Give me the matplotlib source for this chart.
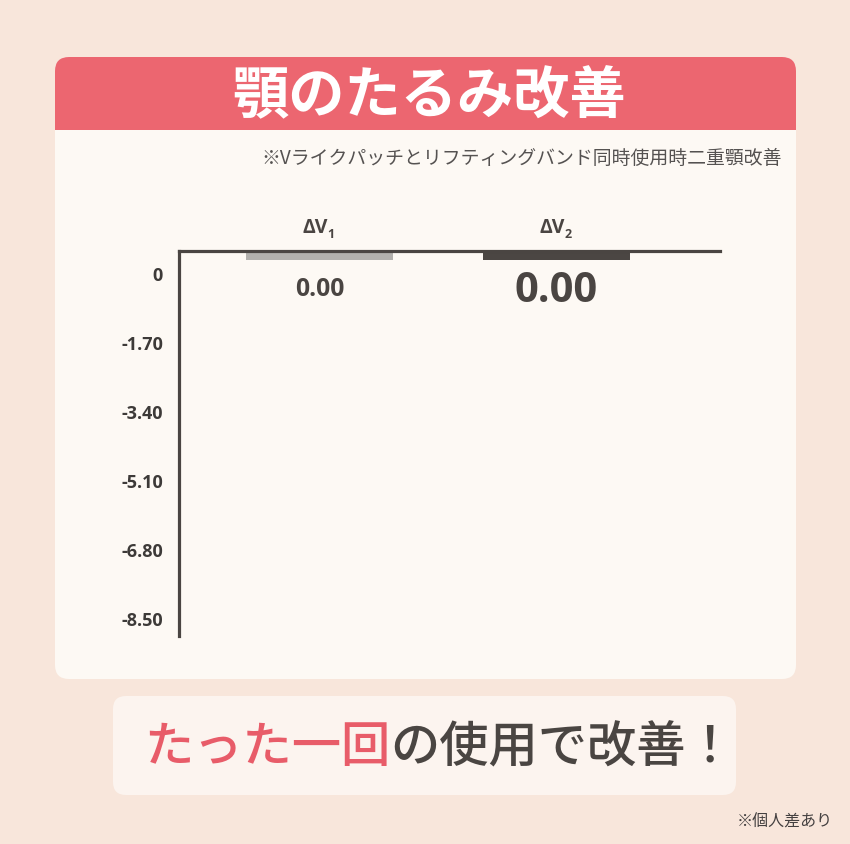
import matplotlib
matplotlib.use("Agg")
import matplotlib.pyplot as plt
from matplotlib import font_manager as fm
from matplotlib.patches import FancyBboxPatch, Rectangle
import numpy as np

# ---- data ----
categories = ["ΔV", "ΔV"]
category_subs = ["1", "2"]
values = [0.00, 0.00]
value_labels = ["0.00", "0.00"]
y_ticks = [0, -1.70, -3.40, -5.10, -6.80, -8.50]
y_tick_labels = ["0", "-1.70", "-3.40", "-5.10", "-6.80", "-8.50"]
title = "顎のたるみ改善"
subtitle = "※Vライクパッチとリフティングバンド同時使用時二重顎改善"
headline_pink = "たった一回"
headline_dark = "の使用で改善！"
footnote = "※個人差あり"

# ---- style ----
BG = "#f8e6db"
CARD = "#fdf9f4"
RED = "#ec6670"
PINK = "#e85c69"
DARK = "#4a4542"
BOX = "#fcf4ef"
bar_colors = ["#b2b0ad", "#4b4643"]
value_sizes = [17.8, 30]
JP = ["Noto Sans CJK JP", "DejaVu Sans"]


def _is_bold(w):
    if isinstance(w, str):
        return w.lower() in ("bold", "semibold", "demibold", "heavy", "extra bold")
    return w >= 600


def pick_bold(fams):
    for f in fams:
        if any(e.name == f and _is_bold(e.weight) for e in fm.fontManager.ttflist):
            return f
    return "DejaVu Sans"


LATF = pick_bold(["Open Sans", "Noto Sans", "Lato", "Roboto", "DejaVu Sans"])
LAT = [LATF, "DejaVu Sans"]

W, H = 850, 845
fig = plt.figure(figsize=(W / 100, H / 100), dpi=100)
fig.patch.set_facecolor(BG)

bg = fig.add_axes([0, 0, 1, 1], zorder=0)
bg.set_xlim(0, W)
bg.set_ylim(H, 0)
bg.axis("off")

bg.add_patch(FancyBboxPatch((55, 58), 741, 622, boxstyle="round,pad=0,rounding_size=14",
                            fc=CARD, ec="none"))
bg.add_patch(FancyBboxPatch((55, 58), 741, 95, boxstyle="round,pad=0,rounding_size=14",
                            fc=RED, ec="none"))
bg.add_patch(Rectangle((55, 131), 741, 30, fc=CARD, ec="none"))
bg.add_patch(FancyBboxPatch((113, 697), 623, 99, boxstyle="round,pad=0,rounding_size=13",
                            fc=BOX, ec="none"))

bg.text(429, 97, title, family=JP, weight="bold", fontsize=40.5, color="white",
        ha="center", va="center")
bg.text(782, 158, subtitle, family=JP, fontsize=13.6, color="#555251",
        ha="right", va="center")
t1 = bg.text(144, 748, headline_pink, family=JP, weight="medium", fontsize=35.5,
             color=PINK, ha="left", va="center")
bg.annotate(headline_dark, xy=(1, 0), xycoords=t1, family=JP, weight="medium",
            fontsize=35.5, color=DARK, ha="left", va="bottom")
bg.text(833, 822, footnote, family=JP, fontsize=11.5, color="#444040",
        ha="right", va="center")

# ---- chart ----
ax = fig.add_axes([179 / W, 1 - 637 / H, (720 - 179) / W, (637 - 252) / H], zorder=2)
ax.patch.set_alpha(0)
ytop, ybot = 0.54, -8.94
ax.set_ylim(ybot, ytop)
ax.set_xlim(-0.593, 1.690)
x = np.arange(len(categories))

stub = 0.2  # minimum visible bar thickness for zero values
for i, v in enumerate(values):
    ax.bar(x[i], v - stub, bottom=ytop - 0.02, width=0.62, color=bar_colors[i], zorder=1)
    ax.annotate(value_labels[i], xy=(x[i], v), xytext=(0, -15.8 if i == 0 else -20.2),
                textcoords="offset points", ha="center", va="baseline",
                family=LAT, weight="bold", fontsize=value_sizes[i], color=DARK)
    cl = ax.annotate(categories[i], xy=(x[i], ytop), xytext=(-3, 13.7),
                     textcoords="offset points", ha="center", va="baseline",
                     family=LAT, weight="bold", fontsize=14, color=DARK,
                     annotation_clip=False)
    ax.annotate(category_subs[i], xy=(1, 0), xycoords=cl, xytext=(-0.3, -2.2),
                textcoords="offset points", ha="left", va="bottom",
                family=LAT, weight="bold", fontsize=9, color=DARK)

for s in ["bottom", "right"]:
    ax.spines[s].set_visible(False)
for s in ["top", "left"]:
    ax.spines[s].set_color(DARK)
    ax.spines[s].set_linewidth(2.3)
    ax.spines[s].set_zorder(3)
ax.set_xticks([])
ax.set_yticks(y_ticks)
ax.set_yticklabels(y_tick_labels, family=LAT, weight="bold", fontsize=13, color="#3d3a38")
ax.tick_params(axis="y", length=0, pad=11.5)

fig.savefig("out.png", dpi=100, facecolor=BG)
